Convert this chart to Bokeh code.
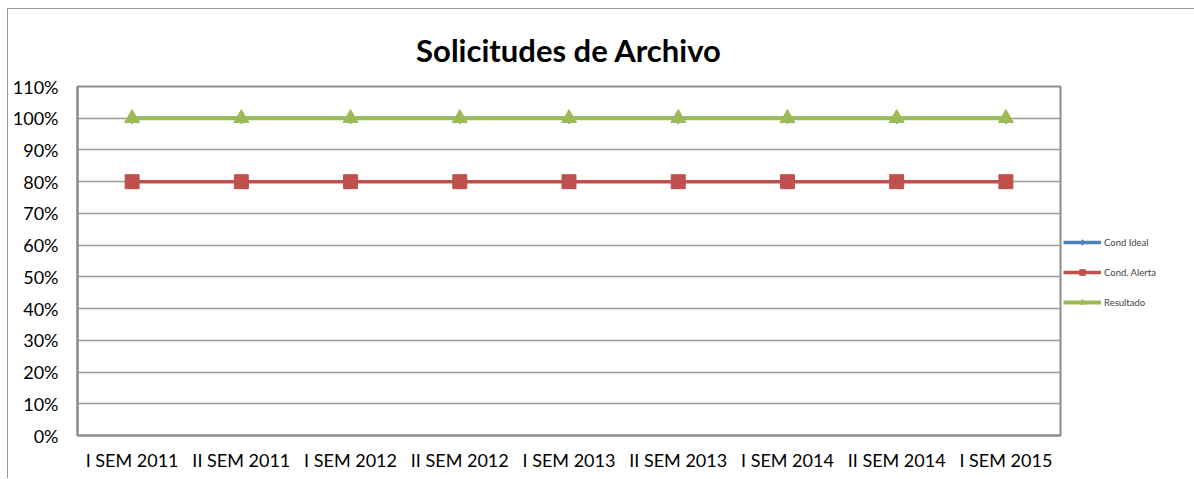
from bokeh.plotting import figure
from bokeh.models import FactorRange, Range1d, NumeralTickFormatter, Legend, LegendItem, Title, FixedTicker
from bokeh.embed import file_html
from bokeh.resources import INLINE

categories = ["I SEM 2011", "II SEM 2011", "I SEM 2012", "II SEM 2012", "I SEM 2013",
              "II SEM 2013", "I SEM 2014", "II SEM 2014", "I SEM 2015"]
cond_ideal = [1.0, 1.0, 1.0, 1.0, 1.0, 1.0, 1.0, 1.0, 1.0]
cond_alerta = [0.8, 0.8, 0.8, 0.8, 0.8, 0.8, 0.8, 0.8, 0.8]
resultado = [1.0, 1.0, 1.0, 1.0, 1.0, 1.0, 1.0, 1.0, 1.0]
y_ticks = [0.0, 0.1, 0.2, 0.3, 0.4, 0.5, 0.6, 0.7, 0.8, 0.9, 1.0, 1.1]

FONT = "Lato"
GREY = "#8c8c8c"

p = figure(frame_width=983, frame_height=349, output_backend="svg", toolbar_location=None,
           x_range=FactorRange(*categories, range_padding=0), y_range=Range1d(0, 1.1),
           min_border_left=69, min_border_right=133, min_border_top=77, min_border_bottom=43)
p.styles = {"border-top": "1px solid #9a9a9a", "border-left": "1px solid #9a9a9a",
            "margin-left": "7px", "margin-top": "8px"}

p.title = Title(text="Solicitudes de Archivo", align="center", text_font=FONT, text_font_size="31px",
                text_font_style="bold", text_color="#000000", standoff=35)

p.outline_line_color = GREY
p.outline_line_width = 2
p.xgrid.grid_line_color = None
p.ygrid.grid_line_color = "#9a9a9a"
p.ygrid.grid_line_width = 1.3

p.yaxis.ticker = FixedTicker(ticks=y_ticks)
p.yaxis.formatter = NumeralTickFormatter(format="0%")
p.yaxis.major_tick_line_color = None
p.yaxis.minor_tick_line_color = None
p.yaxis.axis_line_color = GREY
p.yaxis.axis_line_width = 2
p.yaxis.major_label_text_font = FONT
p.yaxis.major_label_text_font_size = "18px"
p.yaxis.major_label_text_color = "#000000"
p.yaxis.major_label_standoff = 13

p.xaxis.major_tick_line_color = None
p.xaxis.minor_tick_line_color = None
p.xaxis.axis_line_color = GREY
p.xaxis.axis_line_width = 2
p.xaxis.major_label_text_font = FONT
p.xaxis.major_label_text_font_size = "18px"
p.xaxis.major_label_text_color = "#000000"
p.xaxis.major_label_standoff = 7

l1 = p.line(categories, cond_ideal, line_color="#4F81BD", line_width=3.5)
m1 = p.scatter(categories, cond_ideal, marker="diamond", size=11, fill_color="#4F81BD", line_color="#4F81BD")
l2 = p.line(categories, cond_alerta, line_color="#C0504D", line_width=3.5)
m2 = p.scatter(categories, cond_alerta, marker="square", size=14, fill_color="#C0504D", line_color="#C0504D")
l3 = p.line(categories, resultado, line_color="#9BBB59", line_width=4)
m3 = p.scatter(categories, resultado, marker="triangle", size=15, fill_color="#9BBB59", line_color="#9BBB59")

legend = Legend(items=[LegendItem(label="Cond Ideal", renderers=[l1, m1]),
                       LegendItem(label="Cond. Alerta", renderers=[l2, m2]),
                       LegendItem(label="Resultado", renderers=[l3, m3])],
                location=(3, 126), padding=0, margin=0, spacing=16, glyph_height=14, glyph_width=38,
                label_standoff=3, label_text_font=FONT, label_text_font_size="9.5px",
                border_line_color=None, background_fill_alpha=0)
p.add_layout(legend, "right")

open("out.html", "w").write(file_html(p, INLINE))
